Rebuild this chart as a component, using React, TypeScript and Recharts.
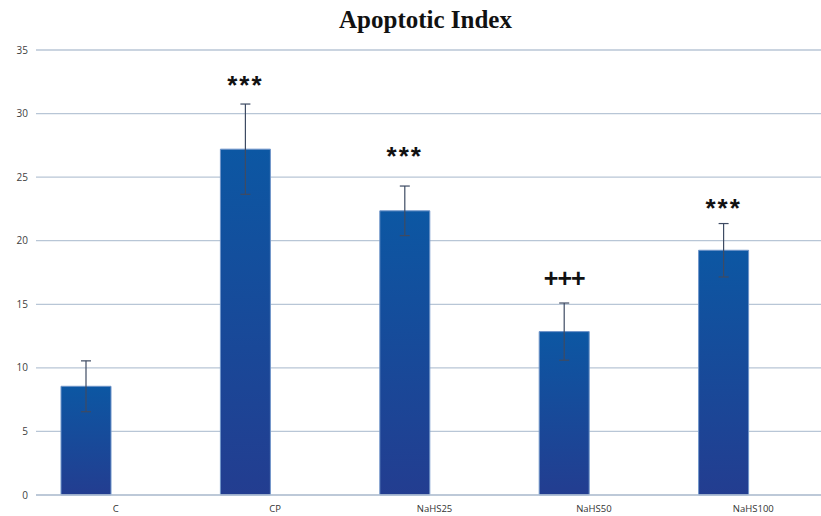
import React from 'react';
import { BarChart, Bar, XAxis, YAxis, CartesianGrid, ErrorBar, LabelList } from 'recharts';

// data
const groups = ['C', 'CP', 'NaHS25', 'NaHS50', 'NaHS100'];
const means = [8.55, 27.2, 22.35, 12.85, 19.25];
const errors = [2.0, 3.55, 1.95, 2.25, 2.1];
const marks = ['', '***', '***', '+++', '***'];
const markLevels = [0, 32.5, 26.9, 17.1, 22.8];
const yTicks = [0, 5, 10, 15, 20, 25, 30, 35];

const chartData = groups.map((g, i) => ({
  name: g,
  mean: means[i],
  err: errors[i],
  mark: marks[i],
  markLevel: markLevels[i],
  blank: null,
}));

// put the significance mark at its level using the bar's own pixel scale
const MarkLabel = (props: any) => {
  const { x, y, width, height, index } = props;
  const row = chartData[index];
  if (!row || !row.mark) return null;
  const pxPerUnit = height / row.mean;
  const base = y + height;
  const cy = base - row.markLevel * pxPerUnit;
  const isPlus = row.mark.startsWith('+');
  return (
    <text
      x={x + width / 2}
      y={cy}
      textAnchor="middle"
      dominantBaseline={isPlus ? 'central' : 'hanging'}
      dy={isPlus ? 0 : -7}
      fontFamily="'Liberation Sans', Arial, sans-serif"
      fontWeight="bold"
      fontSize={isPlus ? 25 : 26}
      letterSpacing={isPlus ? -1 : 2}
      fill="#111"
    >
      {row.mark}
    </text>
  );
};

export default function App() {
  return (
    <div style={{ position: 'absolute', left: 0, top: 0, width: 821, height: 516, overflow: 'hidden', background: '#fff' }}>
      <div
        style={{
          position: 'absolute', left: 0, top: 6, width: 821, textAlign: 'center',
          fontFamily: "'Liberation Serif', 'Times New Roman', serif", fontWeight: 'bold', fontSize: 25,
          color: '#111', paddingLeft: 30, boxSizing: 'border-box',
        }}
      >
        Apoptotic Index
      </div>
      <BarChart
        width={833}
        height={516}
        data={chartData}
        margin={{ top: 50, right: 0, bottom: 0, left: 6 }}
        barCategoryGap={25}
        barGap={10}
      >
        <defs>
          <linearGradient id="barFill" x1="0" y1="0" x2="0" y2="1">
            <stop offset="0%" stopColor="#0c57a3" />
            <stop offset="100%" stopColor="#233d90" />
          </linearGradient>
        </defs>
        <CartesianGrid vertical={false} stroke="#b8c6d6" strokeWidth={1.3} />
        <XAxis
          dataKey="name"
          height={21}
          tickLine={false}
          axisLine={{ stroke: '#b8c6d6', strokeWidth: 1.3 }}
          tick={{ fontSize: 9.5, fill: '#333', fontFamily: "'Open Sans', sans-serif" }}
          tickMargin={4}
          interval={0}
        />
        <YAxis
          width={30}
          domain={[0, 35]}
          ticks={yTicks}
          tickLine={false}
          axisLine={false}
          tick={{ fontSize: 10, fill: '#404040', fontFamily: "'Open Sans', sans-serif" }}
        />
        <Bar dataKey="mean" fill="url(#barFill)" stroke="#6f94c9" strokeWidth={1} isAnimationActive={false}>
          <ErrorBar dataKey="err" width={5} stroke="#3e4b63" strokeWidth={1.2} direction="y" />
          <LabelList dataKey="mark" content={MarkLabel} />
        </Bar>
        <Bar dataKey="blank" fill="none" isAnimationActive={false} />
      </BarChart>
    </div>
  );
}
